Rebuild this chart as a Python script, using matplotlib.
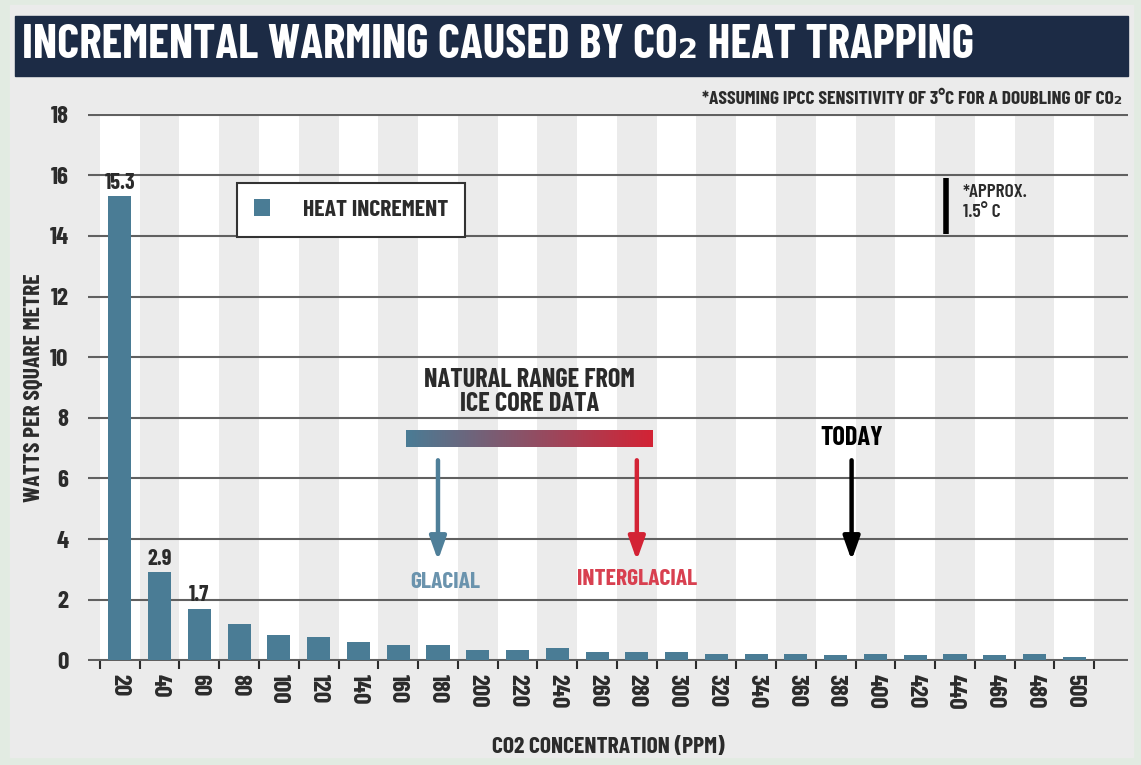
import numpy as np
import matplotlib
matplotlib.use("Agg")
import matplotlib.pyplot as plt
from matplotlib import font_manager as fm
from matplotlib.colors import LinearSegmentedColormap
from matplotlib.patches import Rectangle

# data
ppm = [20, 40, 60, 80, 100, 120, 140, 160, 180, 200, 220, 240, 260,
       280, 300, 320, 340, 360, 380, 400, 420, 440, 460, 480, 500]
heat = [15.3, 2.9, 1.7, 1.2, 0.85, 0.78, 0.6, 0.52, 0.52, 0.34, 0.34, 0.41, 0.27,
        0.27, 0.29, 0.2, 0.2, 0.2, 0.19, 0.2, 0.19, 0.2, 0.19, 0.2, 0.1]
value_labels = {0: "15.3", 1: "2.9", 2: "1.7"}
yticks = list(range(0, 19, 2))

glacial_ppm = 180
interglacial_ppm = 280
today_ppm = 388
range_ppm = (164, 288)

# condensed bold face, close to the original's
names = {f.name for f in fm.fontManager.ttflist}
FAM = "Barlow Condensed" if "Barlow Condensed" in names else "DejaVu Sans"
plt.rcParams["font.family"] = [FAM, "DejaVu Sans"]
plt.rcParams["font.weight"] = "bold"

BAR = "#4a7c95"
NAVY = "#1c2b45"
PANEL = "#ebebeb"
GRID = "#606060"
DARK = "#2b2b2b"
RED = "#d32335"

fig = plt.figure(figsize=(11.41, 7.65), dpi=100, facecolor="#e2ebe2")
fig.patches.append(Rectangle((10 / 1141, 1 - 757 / 765), 1123 / 1141, 752 / 765,
                             transform=fig.transFigure, color=PANEL, zorder=-2))
fig.patches.append(Rectangle((15 / 1141, 1 - 76 / 765), 1113 / 1141, 60 / 765,
                             transform=fig.transFigure, color=NAVY, zorder=-1))
fig.text(22 / 1141, 1 - 46 / 765, "INCREMENTAL WARMING CAUSED BY CO₂ HEAT TRAPPING",
         color="white", fontsize=34, fontweight="bold", va="center", ha="left")
fig.text(1122 / 1141, 1 - 100 / 765,
         "*ASSUMING IPCC SENSITIVITY OF 3°C FOR A DOUBLING OF CO₂",
         color=DARK, fontsize=14, fontweight="bold", ha="right", va="center")

ax = fig.add_axes([88 / 1141, 1 - 661 / 765, 1040 / 1141, 547 / 765])
ax.set_facecolor(PANEL)
x = np.arange(len(ppm))

# white stripes behind every other category
ax.bar(x[::2], 18, width=1, color="white", zorder=0)
for v in yticks:
    ax.axhline(v, color=GRID, lw=1.5, zorder=1)

bars = ax.bar(x, heat, width=0.58, color=BAR, zorder=3, label="HEAT INCREMENT")
for i, t in value_labels.items():
    ax.text(x[i], heat[i] + 0.12, t, ha="center", va="bottom", fontsize=16,
            color=DARK, zorder=4)

for s in ax.spines.values():
    s.set_visible(False)
ax.set_yticks(yticks)
ax.set_yticklabels([str(v) for v in yticks], fontsize=18, color=DARK)
ax.tick_params(axis="y", length=0, pad=14)
ax.set_xticks(x)
ax.set_xticklabels([str(p) for p in ppm], rotation=-90, fontsize=18, color=DARK)
ax.set_xticks(np.arange(len(ppm) + 1) - 0.5, minor=True)
ax.tick_params(axis="x", which="major", length=0, pad=9)
ax.tick_params(axis="x", which="minor", length=6, width=1.5, color=DARK)
ax.set_xlabel("CO2 CONCENTRATION (PPM)", fontsize=17, fontweight="bold",
              color=DARK, labelpad=20)
ax.set_ylabel("WATTS PER SQUARE METRE", fontsize=17, fontweight="bold",
              color=DARK, labelpad=4)


def pos(p):
    return p / 20 - 1


# natural range gradient bar
cmap = LinearSegmentedColormap.from_list("rng", [BAR, RED])
ax.imshow(np.linspace(0, 1, 256)[None, :], cmap=cmap, aspect="auto",
          extent=(pos(range_ppm[0]), pos(range_ppm[1]), 7.04, 7.6), zorder=4)
ax.set_xlim(-0.8, 25.35)
ax.set_ylim(-0.02, 18.02)
ax.text((pos(range_ppm[0]) + pos(range_ppm[1])) / 2, 8.05,
        "NATURAL RANGE FROM\nICE CORE DATA", ha="center", va="bottom",
        fontsize=19, color=DARK, linespacing=1.0)

arrows = [(glacial_ppm, "#4f7f99", "GLACIAL", "#6a93ad", 0.18, 2.57),
          (interglacial_ppm, RED, "INTERGLACIAL", "#d84050", 0.0, 2.67),
          (today_ppm, "black", None, None, 0, 0)]
for p, c, lab, lc, dx, ly in arrows:
    ax.annotate("", xy=(pos(p), 3.3), xytext=(pos(p), 6.6),
                arrowprops=dict(arrowstyle="-|>,head_length=1.4,head_width=0.5",
                                lw=3.2, color=c, shrinkA=0, shrinkB=0), zorder=4)
    if lab:
        ax.text(pos(p) + dx, ly, lab, ha="center", va="center", fontsize=17, color=lc)
ax.text(pos(today_ppm), 7.35, "TODAY", ha="center", va="center", fontsize=19, color="black")

# approx 1.5 C marker
ax.plot([20.78, 20.78], [14.05, 15.9], color="black", lw=4, solid_capstyle="butt", zorder=4)
ax.text(21.2, 15.7, "*APPROX.\n1.5° C", ha="left", va="top", fontsize=14,
        fontweight="semibold", color=DARK, linespacing=1.2)

leg = ax.legend(handles=[bars], loc="upper left", bbox_to_anchor=(0.1433, 0.874),
                borderaxespad=0, frameon=True, fancybox=False, fontsize=17,
                handlelength=0.7, handleheight=0.7, borderpad=0.7, handletextpad=1.4)
leg.get_frame().set_edgecolor("#333333")
leg.get_frame().set_linewidth(1.5)
leg.get_frame().set_alpha(1)
for t in leg.get_texts():
    t.set_color(DARK)

fig.savefig("out.png", dpi=100, facecolor=fig.get_facecolor())
